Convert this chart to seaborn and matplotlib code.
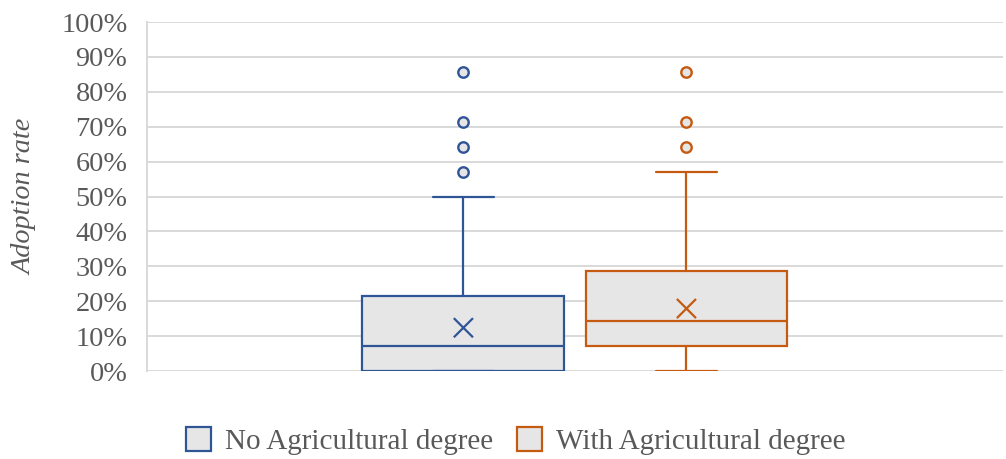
import matplotlib
matplotlib.use("Agg")
import matplotlib.pyplot as plt
from matplotlib.patches import Patch
from matplotlib.ticker import PercentFormatter
import seaborn as sns
import pandas as pd

# Box-plot summary of adoption rates per group
groups = ["No Agricultural degree", "With Agricultural degree"]
colors = ["#2F5597", "#C55A11"]
whisker_low = [0.0, 0.0]
q1 = [0.0, 0.0714]
median = [0.0714, 0.1429]
q3 = [0.2143, 0.2857]
whisker_high = [0.50, 0.5714]
means = [0.124, 0.179]
outliers = [
    [0.5714, 0.6429, 0.7143, 0.8571],
    [0.6429, 0.7143, 0.8571],
]
y_ticks = [i / 10 for i in range(11)]

sns.set_style("white")
plt.rcParams["font.family"] = ["Liberation Serif", "DejaVu Serif"]

fig = plt.figure(figsize=(10.06, 4.59), dpi=100)
ax = fig.add_axes([0.146, 0.1917, 0.851, 0.7603])

grid_c = "#D9D9D9"
text_c = "#595959"
fill_c = "#E7E6E6"
positions = [0, 1]

for i, g in enumerate(groups):
    stats = [dict(label=g, whislo=whisker_low[i], q1=q1[i], med=median[i],
                  q3=q3[i], whishi=whisker_high[i], fliers=outliers[i])]
    c = colors[i]
    ax.bxp(stats, positions=[positions[i]], widths=0.905, capwidths=0.27,
           patch_artist=True, showmeans=False,
           boxprops=dict(facecolor=fill_c, edgecolor=c, linewidth=1.6),
           medianprops=dict(color=c, linewidth=1.6),
           whiskerprops=dict(color=c, linewidth=1.6),
           capprops=dict(color=c, linewidth=1.6),
           flierprops=dict(marker="o", markersize=7.5, markerfacecolor=fill_c,
                           markeredgecolor=c, markeredgewidth=1.7),
           zorder=3)

mean_df = pd.DataFrame({"pos": positions, "mean": means, "group": groups})
sns.scatterplot(data=mean_df, x="pos", y="mean", hue="group", palette=colors,
                marker="x", s=190, linewidth=1.6, legend=False, ax=ax, zorder=4)

ax.set_xlim(-1.419, 2.419)
ax.set_ylim(0, 1)
ax.set_yticks(y_ticks)
ax.yaxis.set_major_formatter(PercentFormatter(1.0, decimals=0))
ax.set_xticks([])
ax.set_xlabel("")
ax.grid(axis="y", color=grid_c, linewidth=1.4)
ax.set_axisbelow(True)
for side in ["top", "right", "bottom"]:
    ax.spines[side].set_visible(False)
ax.spines["left"].set_color(grid_c)
ax.spines["left"].set_linewidth(1.4)
ax.tick_params(axis="y", length=0, pad=14, labelsize=20.3, labelcolor=text_c)
ax.set_ylabel("Adoption rate", fontsize=20.3, color=text_c, style="italic",
              labelpad=17)

handles = [Patch(facecolor=fill_c, edgecolor=c, linewidth=1.6) for c in colors]
fig.legend(handles, groups, loc="center", bbox_to_anchor=(516 / 1006, 1 - 441 / 459),
           ncol=2, frameon=False, fontsize=21, labelcolor=text_c,
           handlelength=0.86, handleheight=0.89, handletextpad=0.48,
           columnspacing=0.82, borderpad=0.2)

fig.savefig("out.png", dpi=100)
